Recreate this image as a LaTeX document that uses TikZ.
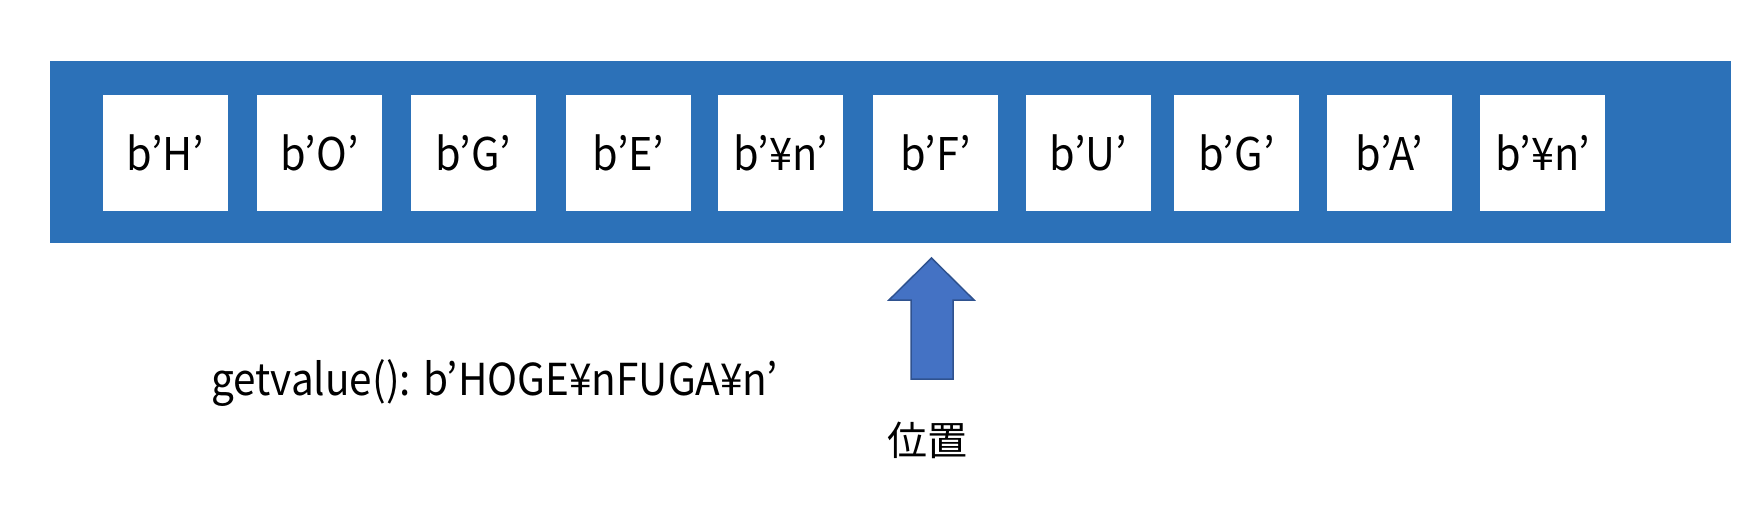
\documentclass[tikz,border=0pt]{standalone}
\usepackage{fontspec}
\setmainfont{Noto Sans CJK JP}[FakeStretch=0.92]
\newfontfamily\cjkfont{Noto Sans CJK JP}
\usetikzlibrary{positioning}
\definecolor{bufblue}{HTML}{2C71B8}
\definecolor{ptrblue}{HTML}{4472C4}
\definecolor{ptrline}{HTML}{2F528F}
\tikzset{
	node_buf/.style = {
		rectangle,
		inner sep=0pt,
		fill=bufblue,
		minimum width=840.5pt,
		minimum height=91pt
	},
	node_cell/.style = {
		rectangle,
		inner sep=0pt,
		fill=white,
		font=\fontsize{22.5}{26}\selectfont,
		minimum width=62.5pt,
		minimum height=58pt
	},
	node_value/.style = {
		inner sep=0pt,
		anchor=base west,
		font=\fontsize{22}{26}\selectfont
	},
	node_pos/.style = {
		inner sep=0pt,
		font=\cjkfont\fontsize{20}{24}\selectfont
	},
	ptr_arrow/.style = {
		fill=ptrblue,
		draw=ptrline,
		line width=0.75pt,
		line join=miter
	},
}

\begin{document}
\begin{tikzpicture}[x=0.5pt, y=-0.5pt]
\useasboundingbox (0,0) rectangle (1758,510);
\node [node_buf] (buf) at (890.5,152) {};
\foreach \x/\c [count=\i] in {165.5/H, 319.5/O, 473.5/G, 628.5/E, 780.5/¥n,
	935.5/F, 1088.5/U, 1236.5/G, 1389.5/A, 1542.5/¥n}
{
	\node [node_cell] (cell\i) at (\x,153) {b’\c’};
}
% position pointer
\coordinate (tip) at (931.5,258);
\draw [ptr_arrow] (911,379) -- (911,300) -- (889,300) -- (tip) -- (974,300) -- (953,300) -- (953,379) -- cycle;
\node [node_pos] (pos) at (927,440) {位置};
\node [node_value] (value) at (211,395) {getvalue(): b’HOGE¥nFUGA¥n’};
\end{tikzpicture}
\end{document}
